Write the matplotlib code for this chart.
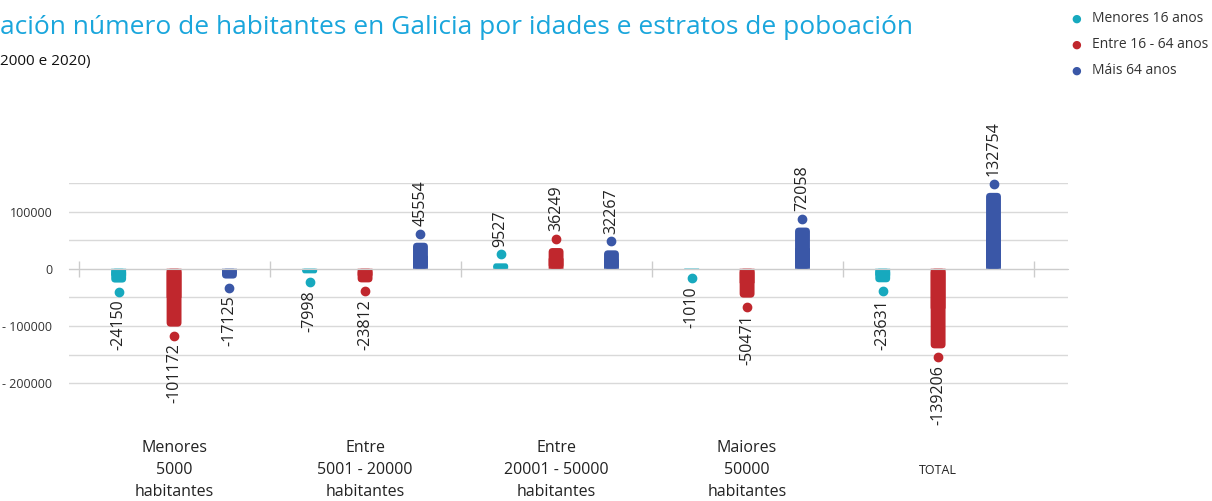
import matplotlib.pyplot as plt
import numpy as np
from matplotlib.ticker import FuncFormatter, FixedLocator
from matplotlib.transforms import blended_transform_factory, offset_copy
from matplotlib.patches import FancyBboxPatch

plt.rcParams['font.family'] = ['Open Sans', 'DejaVu Sans']

categorias = ['Menores\n5000\nhabitantes', 'Entre\n5001 - 20000\nhabitantes',
              'Entre\n20001 - 50000\nhabitantes', 'Maiores\n50000\nhabitantes', 'TOTAL']
series = ['Menores 16 anos', 'Entre 16 - 64 anos', 'Máis 64 anos']
menores16 = [-24150, -7998, 9527, -1010, -23631]
entre16_64 = [-101172, -23812, 36249, -50471, -139206]
mais64 = [-17125, 45554, 32267, 72058, 132754]
cores = ['#17a9be', '#c0272d', '#3a57a7']

fig = plt.figure(figsize=(12.12, 5.01), dpi=100)
ax = fig.add_axes([69/1212, (501-386)/501, (1068-69)/1212, 203/501])
ax.set_xlim(-0.55, 4.68)
ax.set_ylim(-205000, 150000)

# px per data unit, to round the bar ends
pxx = (1068-69) / (4.68 + 0.55)
pxy = 203 / 355000.0
rpx = 4

x = np.arange(len(categorias))
offs = [-0.29, 0, 0.29]
for i, vals in enumerate([menores16, entre16_64, mais64]):
    xs = x + offs[i]
    bars = ax.bar(xs, vals, width=0.078, color=cores[i], lw=0, snap=False, zorder=3)
    for b in bars:
        x0, y0, w, h = b.get_x(), b.get_y(), b.get_width(), b.get_height()
        r = min(rpx, abs(h) * pxy / 2)
        b.set_height(h / 2)
        lo = min(y0, y0 + h)
        fb = FancyBboxPatch((x0, lo), w, abs(h),
                            boxstyle='round,pad=0,rounding_size=%f' % (r / pxx),
                            mutation_aspect=pxx / pxy, color=cores[i], lw=0,
                            snap=False, zorder=3)
        ax.add_patch(fb)
    for xi, v in zip(xs, vals):
        s = 1 if v >= 0 else -1
        tdot = offset_copy(ax.transData, fig=fig, x=0, y=6.5*s, units='points')
        ax.plot([xi], [v], 'o', ms=6, color=cores[i], transform=tdot,
                clip_on=False, zorder=4)
        ax.annotate(str(v), (xi, v), xytext=(0, 12*s), textcoords='offset points',
                    ha='center', va='bottom' if s > 0 else 'top', rotation=90,
                    fontsize=11.5, color='#222222', annotation_clip=False)

ax.yaxis.set_major_locator(FixedLocator(np.arange(-200000, 150001, 50000)))
def fmt(v, p):
    if v % 100000 != 0:
        return ''
    if v < 0:
        return '- %d' % abs(v)
    return '%d' % v
ax.yaxis.set_major_formatter(FuncFormatter(fmt))
ax.tick_params(axis='y', length=0, pad=12, labelsize=9, labelcolor='#333333')
ax.grid(axis='y', color='#d9d9d9', lw=1, zorder=0)

for sp in ['top', 'right', 'left']:
    ax.spines[sp].set_visible(False)
ax.spines['bottom'].set_position(('data', 0))
ax.spines['bottom'].set_color('#cccccc')
ax.spines['bottom'].set_zorder(4)
ax.set_xticks(np.arange(-0.5, 5, 1))
ax.set_xticklabels([])
ax.tick_params(axis='x', direction='inout', length=11, color='#cccccc', width=1)

tr = blended_transform_factory(ax.transData, fig.transFigure)
for xi, c in zip(x, categorias):
    ax.text(xi, (501-470)/501, c, transform=tr, ha='center', va='center',
            fontsize=9 if c == 'TOTAL' else 11.5, linespacing=1.5,
            color='#222222', clip_on=False)

fig.text(0, (501-28)/501, 'ación número de habitantes en Galicia por idades e estratos de poboación',
         color='#1aa6dc', fontsize=19, ha='left', va='center')
fig.text(0, (501-62)/501, '2000 e 2020)', color='#111111', fontsize=11, ha='left', va='center')

for i, s in enumerate(series):
    y = (501 - (19 + 26*i))/501
    fig.text(1076/1212, y, '\u25CF', color=cores[i], fontsize=8, family='DejaVu Sans',
             ha='center', va='center')
    fig.text(1092/1212, y, s, color='#333333', fontsize=10, ha='left', va='center')

fig.savefig('out.png', dpi=100)
